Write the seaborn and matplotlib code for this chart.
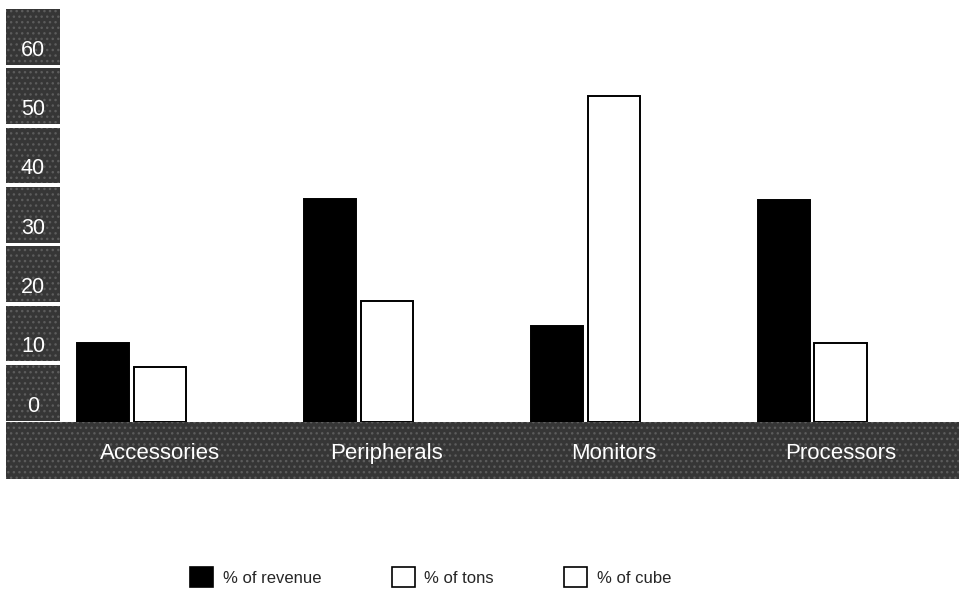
import matplotlib
matplotlib.use("Agg")
import matplotlib.pyplot as plt
import matplotlib.transforms as mtransforms
from matplotlib.patches import Rectangle, Patch
from matplotlib import font_manager
import pandas as pd
import seaborn as sns

categories = ["Accessories", "Peripherals", "Monitors", "Processors"]
series_names = ["% of revenue", "% of tons", "% of cube"]
revenue = [13.2, 37.5, 16.1, 37.4]
tons = [9.2, 20.3, 54.9, 13.2]
cube = [0, 0, 0, 0]
ytick_values = [0, 10, 20, 30, 40, 50, 60]
ytick_labels = ["0", "10", "20", "30", "40", "50", "60"]

sns.set_theme(style="white")
plt.rcParams["font.family"] = ["Liberation Sans", "DejaVu Sans"]

names = {f.name for f in font_manager.fontManager.ttflist}
legend_family = "Liberation Sans Narrow" if "Liberation Sans Narrow" in names else "Liberation Sans"
legend_size = 13 if legend_family == "Liberation Sans Narrow" else 12

rows = []
for s, vals in zip(series_names, [revenue, tons, cube]):
    for c, v in zip(categories, vals):
        rows.append({"category": c, "series": s, "value": v})
df = pd.DataFrame(rows)

fig = plt.figure(figsize=(9.59, 5.93), dpi=100)
ax = fig.add_axes([6 / 959, (593 - 421.5) / 593, 953 / 959, 415.1 / 593])
ax.set_axisbelow(False)

palette = {"% of revenue": "black", "% of tons": "white", "% of cube": "white"}
sns.barplot(data=df, x="category", y="value", hue="series", hue_order=series_names,
            order=categories, palette=palette, edgecolor="black", linewidth=1.4,
            width=0.75, gap=0.08, legend=False, ax=ax, zorder=3)
for p in ax.patches:
    if p.get_height() == 0:
        p.set_linewidth(0)

ax.set_xlim(-0.679, 3.522)
ax.set_ylim(0, 70)
ax.set_xlabel("")
ax.set_ylabel("")
for sp in ax.spines.values():
    sp.set_visible(False)
ax.set_facecolor("white")

band_color = "#363636"
hatch_color = "#5c5c5c"
# category band below the plot
band = Rectangle((0, -57 / 415.1), 1, 57 / 415.1, transform=ax.transAxes,
                 facecolor=band_color, edgecolor=hatch_color, hatch="...",
                 linewidth=0, clip_on=False, zorder=1)
ax.add_patch(band)

# y tick boxes
trans = mtransforms.blended_transform_factory(ax.transAxes, ax.transData)
for v, lab in zip(ytick_values, ytick_labels):
    box = Rectangle((0, v + 0.15), 54 / 953, 9.4, transform=trans,
                    facecolor=band_color, edgecolor=hatch_color, hatch="...",
                    linewidth=0, clip_on=False, zorder=2)
    ax.add_patch(box)
    ax.text(27 / 953, v + 2.6, lab, transform=trans, ha="center", va="center",
            color="white", fontsize=15.5, zorder=4)
ax.set_yticks([])

ax.set_xticks(range(len(categories)))
ax.set_xticklabels(categories, color="white", fontsize=16)
ax.tick_params(axis="x", length=0, pad=15.5)
ax.xaxis.set_zorder(6)

handles = [Patch(facecolor="black", edgecolor="black", linewidth=1.2),
           Patch(facecolor="white", edgecolor="black", linewidth=1.2),
           Patch(facecolor="white", edgecolor="black", linewidth=1.2)]
fsz_px = legend_size * 100 / 72
fig.legend(handles, series_names, loc="center left",
           bbox_to_anchor=(190 / 959, 1 - 577 / 593), ncol=3, frameon=False,
           prop={"family": legend_family, "size": legend_size},
           handlelength=23 / fsz_px, handleheight=23 / fsz_px,
           handletextpad=10 / fsz_px, columnspacing=70 / fsz_px,
           borderpad=0, borderaxespad=0)

fig.savefig("out.png", dpi=100)
